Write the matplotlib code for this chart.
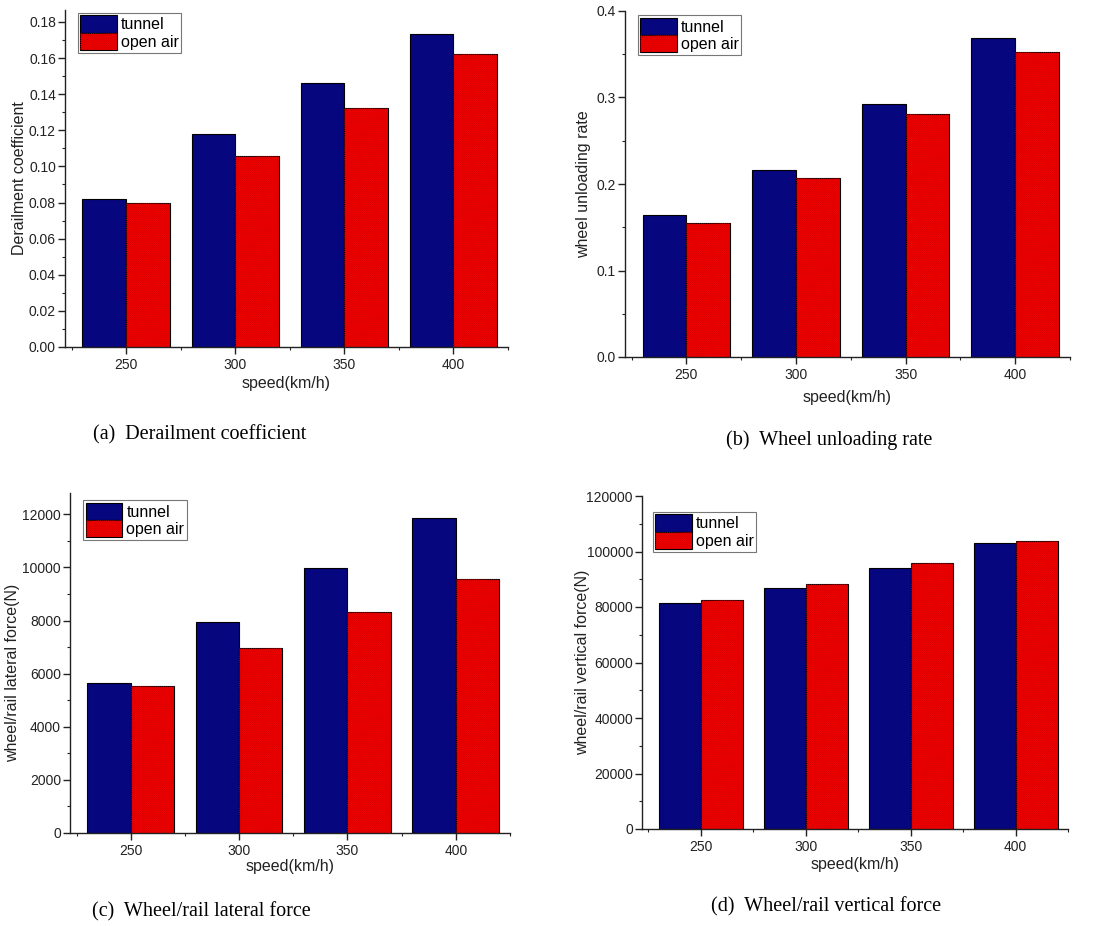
import matplotlib
matplotlib.use("Agg")
import matplotlib.pyplot as plt
from matplotlib.ticker import MultipleLocator, FixedLocator

plt.rcParams['font.family'] = ['Liberation Sans', 'DejaVu Sans']
plt.rcParams['hatch.linewidth'] = 0.4

speeds = [250, 300, 350, 400]
series_names = ["tunnel", "open air"]

derail_tunnel = [0.0820, 0.1178, 0.1460, 0.1735]
derail_open = [0.0800, 0.1058, 0.1325, 0.1623]

unload_tunnel = [0.1647, 0.2167, 0.2930, 0.3688]
unload_open = [0.1548, 0.2068, 0.2810, 0.3523]

lateral_tunnel = [5630, 7950, 9960, 11850]
lateral_open = [5540, 6970, 8310, 9550]

vertical_tunnel = [81600, 86800, 94100, 103000]
vertical_open = [82500, 88300, 96000, 103900]

ylabels = ["Derailment coefficient", "wheel unloading rate",
           "wheel/rail lateral force(N)", "wheel/rail vertical force(N)"]
captions = ["(a)  Derailment coefficient", "(b)  Wheel unloading rate",
            "(c)  Wheel/rail lateral force", "(d)  Wheel/rail vertical force"]
xlabel = "speed(km/h)"

W, H = 1095, 926
fig = plt.figure(figsize=(W / 100, H / 100), dpi=100)

def rect(l, r, t, b):
    return [l / W, 1 - b / H, (r - l) / W, (b - t) / H]

panels = [
    dict(r=rect(65, 508, 10, 347), t=derail_tunnel, o=derail_open, ylim=(0, 0.1866),
         major=0.02, minor=0.01, fmt="{:.2f}", ylx=-0.102, yly=0.5, xly=-0.107,
         leg=(0.029, 0.991), cap=(200, 435)),
    dict(r=rect(625, 1070, 11, 357), t=unload_tunnel, o=unload_open, ylim=(0, 0.4),
         major=0.1, minor=0.05, fmt="{:.1f}", ylx=-0.094, yly=0.5, xly=-0.116,
         leg=(0.029, 0.988), cap=(829, 440)),
    dict(r=rect(70, 510, 493, 833), t=lateral_tunnel, o=lateral_open, ylim=(0, 12800),
         major=2000, minor=1000, fmt="{:.0f}", ylx=-0.13, yly=0.47, xly=-0.10,
         leg=(0.03, 0.979), cap=(201, 912)),
    dict(r=rect(642, 1068, 496, 829), t=vertical_tunnel, o=vertical_open, ylim=(0, 120000),
         major=20000, minor=10000, fmt="{:.0f}", ylx=-0.139, yly=0.5, xly=-0.108,
         leg=(0.026, 0.952), cap=(826, 907)),
]

navy = "#06067e"
red = "#f50000"
hatch_c = "#cc0000"
bw = 20

for i, p in enumerate(panels):
    ax = fig.add_axes(p["r"])
    xs_t = [s - bw / 2 for s in speeds]
    xs_o = [s + bw / 2 for s in speeds]
    b1 = ax.bar(xs_t, p["t"], width=bw, color=navy, edgecolor="black", linewidth=0.8, zorder=2)
    b2 = ax.bar(xs_o, p["o"], width=bw, color=red, edgecolor="black", linewidth=0.8, zorder=2)
    b3 = ax.bar(xs_o, p["o"], width=bw, color="none", edgecolor=hatch_c, hatch="/" * 16,
                linewidth=0, zorder=3)
    ax.set_xlim(222, 425)
    ax.set_ylim(*p["ylim"])
    for s in ["top", "right"]:
        ax.spines[s].set_visible(False)
    for s in ["left", "bottom"]:
        ax.spines[s].set_linewidth(1.0)
        ax.spines[s].set_color("#222222")
    ax.xaxis.set_major_locator(FixedLocator(speeds))
    ax.xaxis.set_minor_locator(FixedLocator([225, 275, 325, 375, 425]))
    ax.set_xticklabels([str(s) for s in speeds])
    ax.yaxis.set_major_locator(MultipleLocator(p["major"]))
    ax.yaxis.set_minor_locator(MultipleLocator(p["minor"]))
    yt = [v * p["major"] for v in range(0, 20) if v * p["major"] <= p["ylim"][1] + 1e-9]
    ax.set_yticks(yt)
    ax.set_yticklabels([p["fmt"].format(v) for v in yt])
    ax.tick_params(axis="both", which="major", direction="out", length=5, width=1.0,
                   labelsize=10, color="#222222", labelcolor="#222222")
    ax.tick_params(axis="x", which="major", pad=3)
    ax.tick_params(axis="y", which="major", pad=1.5)
    ax.tick_params(axis="both", which="minor", direction="out", length=2.5, width=0.8,
                   color="#222222")
    ax.set_ylabel(ylabels[i], fontsize=11.5, color="#222222")
    ax.set_xlabel(xlabel, fontsize=11.5, color="#222222")
    ax.yaxis.label.set_va("center")
    ax.xaxis.label.set_va("center")
    ax.yaxis.set_label_coords(p["ylx"], p["yly"])
    ax.xaxis.set_label_coords(0.5, p["xly"])
    leg = ax.legend([b1, (b2, b3)], series_names, loc="upper left",
                    bbox_to_anchor=p["leg"], borderaxespad=0, fontsize=11.5,
                    handlelength=2.3, handleheight=1.3, labelspacing=0.0,
                    handletextpad=0.25, borderpad=0.15, fancybox=False,
                    framealpha=1, edgecolor="#777777")
    leg.get_frame().set_linewidth(0.8)
    fig.text(p["cap"][0] / W, 1 - p["cap"][1] / H, captions[i], ha="center", va="center",
             fontsize=14.5, family=["Liberation Serif", "DejaVu Serif"], color="black")

fig.savefig("out.png", dpi=100)
